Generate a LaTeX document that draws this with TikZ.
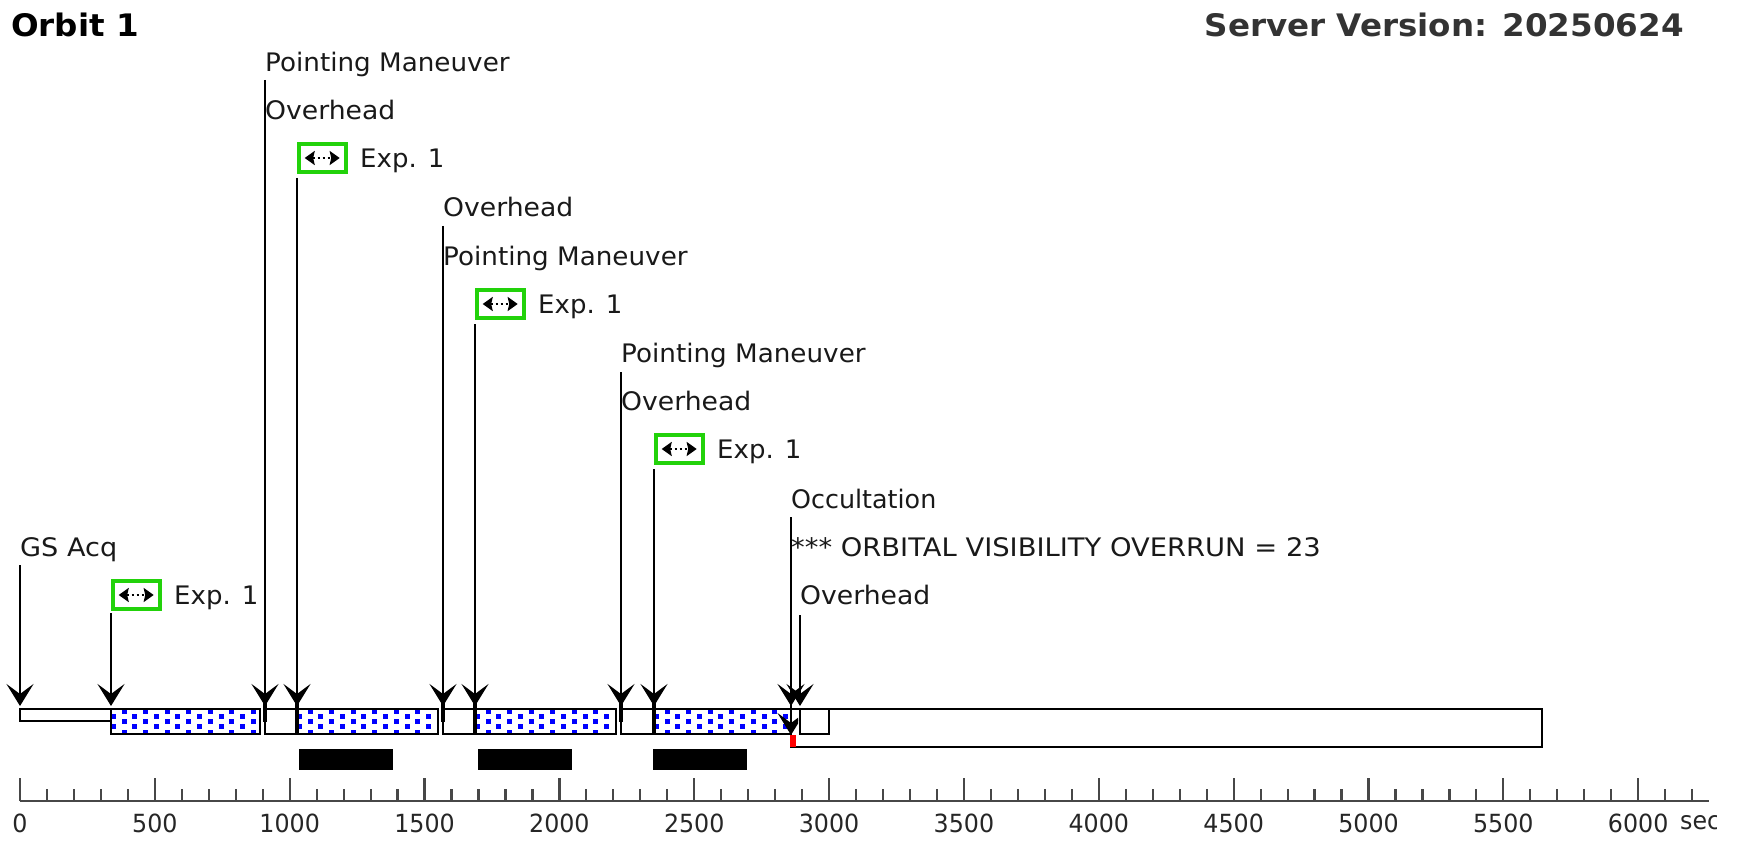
\documentclass[tikz,border=0pt]{standalone}
\usepackage{fontspec}
\setmainfont{DejaVu Sans}
\usetikzlibrary{arrows.meta}
\tikzset{
  x=1pt,y=-1pt,
  lab/.style={anchor=west,inner sep=0pt,text height=17pt,text depth=0pt,font=\fontsize{25.5}{25.5}\selectfont\addfontfeature{FakeStretch=#1},text=black!90},
  lab/.default=1.02,
  ttl/.style={inner sep=0pt,font=\bfseries\fontsize{31}{31}\selectfont\addfontfeature{FakeStretch=1.05}},
  axlab/.style={anchor=center,inner sep=0pt,font=\fontsize{25}{25}\selectfont\addfontfeature{FakeStretch=0.95},text=black!85},
  barbox/.style={draw=black,line width=2.7pt,fill=white,inner sep=0pt,outer sep=0pt,anchor=north west},
  blackbar/.style={fill=black,inner sep=0pt,outer sep=0pt,anchor=north west},
  expbox/.style={draw={rgb,255:red,34;green,210;blue,10},line width=4pt,fill=white,inner sep=0pt,outer sep=0pt,anchor=north west,minimum width=47pt,minimum height=28pt},
  conn/.style={draw=black,line width=2.7pt,-{Stealth[length=22pt,width=27pt,inset=10pt]}},
  expicon/.style={draw=black,line width=2.4pt,dash pattern=on 2pt off 3pt,{Stealth[length=10pt,width=14pt,inset=1.5pt]}-{Stealth[length=10pt,width=14pt,inset=1.5pt]}},
  ax/.style={draw=black!72,line width=2.2pt},
}
\newcommand{\tbox}[6][barbox]{\node[#1,minimum width={(#5-#3)*1pt},minimum height={(#6-#4)*1pt}] (#2) at (#3,#4) {};}
\begin{document}
\begin{tikzpicture}
\useasboundingbox (0,0) rectangle (1737,842);
% titles
\node[ttl,anchor=west] (orbit) at (11,25) {Orbit 1};
\node[ttl,anchor=east,text=black!80] (server) at (1684,25) {Server Version: 20250624};
% bars
\tbox{gsbar}{20}{709}{111}{721}
\tbox{occ}{791}{709}{1542}{747}
\foreach \n/\a/\b in {e1/111/260,e2/297/438,e3/475/616,e4/654/791}{
  \tbox{\n}{\a}{709}{\b}{734}
  \begin{scope}
    \clip (\a,709) rectangle (\b,734);
    \foreach \i in {0,...,14}{
      \foreach \r in {711,721.6,732}{
        \fill[blue] ({\a+13+\i*21.55-2.5},{\r-2.5}) rectangle ++(5,5);
      }
      \foreach \r in {716.3,726.9}{
        \fill[blue] ({\a+2.3+\i*21.55-2.5},{\r-2.5}) rectangle ++(5,5);
      }
    }
  \end{scope}
  \draw[black,line width=2.7pt] (\a,709) rectangle (\b,734);
}
\tbox{o1}{265}{709}{297}{734}
\tbox{o2}{443}{709}{475}{734}
\tbox{o3}{621}{709}{654}{734}
\tbox{o4}{800}{709}{829}{734}
\fill[red] (790,735) rectangle (795.5,747);
% black bars
\tbox[blackbar]{b1}{299}{749}{393}{770}
\tbox[blackbar]{b2}{477.5}{749}{571.5}{770}
\tbox[blackbar]{b3}{652.5}{749}{746.5}{770}
% labels
\node[lab=1.063] (gsacq) at (20,548) {GS Acq};
\node[lab=1.028] (pm1) at (265,63) {Pointing Maneuver};
\node[lab=1.045] (ov1) at (265,111) {Overhead};
\node[lab=1.045] (ov2) at (443,208) {Overhead};
\node[lab=1.028] (pm2) at (443,257) {Pointing Maneuver};
\node[lab=1.028] (pm3) at (621,354) {Pointing Maneuver};
\node[lab=1.045] (ov3) at (621,402) {Overhead};
\node[lab=0.995] (occl) at (791,500) {Occultation};
\node[lab=1.073] (orb) at (791,548) {*** ORBITAL VISIBILITY OVERRUN = 23};
\node[lab=1.045] (ov4) at (800,596) {Overhead};
% exposure markers
\foreach \n/\x/\y in {x1/111/579,x2/297/142,x3/475/288,x4/654/433}{
  \node[expbox] (\n) at ({\x+1.7},{\y+2}) {};
  \draw[expicon] ([xshift=6pt]\n.west) -- ([xshift=-6pt]\n.east);
  \node[lab] (\n l) at ({\x+63},{\y+17}) {Exp. 1};
}
% connectors
\coordinate (t1) at (20,565);
\coordinate (t2) at (265,80);
\coordinate (t3) at (443,226);
\coordinate (t4) at (621,372);
\coordinate (t5) at (791,517);
\coordinate (t6) at (800,615);
\coordinate (t7) at (111,613);
\coordinate (t8) at (297,178);
\coordinate (t9) at (475,324);
\coordinate (t10) at (654,469);
\foreach \a/\x in {t1/20,t2/265,t3/443,t4/621,t5/791,t6/800,t7/111,t8/297,t9/475,t10/654}{
  \coordinate (h) at (\x,706);
  \draw[conn] (\a) -- (h);
}
\begin{scope}
  \clip (770,700) rectangle (798,736);
  \draw[conn] (t5) -- (791,735);
\end{scope}
\foreach \x in {265,443,621}{
  \draw[black,line width=4pt] (\x,703) -- (\x,722);
}
\foreach \x in {297,475,654}{
  \draw[black,line width=4.4pt] (\x,703) -- (\x,734);
}
% axis
\draw[ax] (20,801) -- (1709,801);
\foreach \i in {0,...,62}{
  \pgfmathsetmacro\tx{20+\i*26.97}
  \pgfmathtruncatemacro\m{mod(\i,5)}
  \ifnum\m=0
    \draw[ax] (\tx,801) -- (\tx,778);
  \else
    \draw[ax] (\tx,801) -- (\tx,789);
  \fi
}
\foreach \v in {0,500,1000,1500,2000,2500,3000,3500,4000,4500,5000,5500,6000}{
  \pgfmathsetmacro\tx{20+\v*0.2697}
  \node[axlab] (lab\v) at (\tx,823) {\v};
}
\begin{scope}
  \clip (1670,800) rectangle (1716,842);
  \node[axlab,anchor=west] (sec) at (1680,823) {sec};
\end{scope}
\end{tikzpicture}
\end{document}
